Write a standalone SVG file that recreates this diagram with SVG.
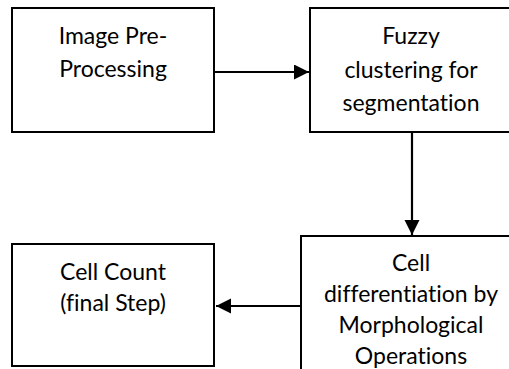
<svg xmlns="http://www.w3.org/2000/svg" width="509" height="369" viewBox="0 0 509 369">
  <style>
    .box { fill: #ffffff; stroke: #000000; stroke-width: 2; }
    .label { font-family: "Lato", "Liberation Sans", sans-serif; font-size: 23px; fill: #000000; text-anchor: middle; font-variant-ligatures: none; }
    .edge { stroke: #000000; stroke-width: 2.2; fill: none; marker-end: url(#arrow); }
  </style>
  <defs>
    <marker id="arrow" markerUnits="userSpaceOnUse" markerWidth="16" markerHeight="16" refX="15" refY="7.5" orient="auto">
      <path d="M0,0 L15,7.5 L0,15 Z" fill="#000000"/>
    </marker>
  </defs>
  <rect width="509" height="369" fill="#ffffff"/>

  <g id="connectors">
    <line class="edge" x1="214" y1="72" x2="309" y2="72"/>
    <line class="edge" x1="412" y1="132" x2="412" y2="235"/>
    <line class="edge" x1="301" y1="306" x2="216" y2="306"/>
  </g>

  <g id="preprocessing">
    <rect class="box" x="12" y="8" width="202" height="124"/>
    <text class="label" x="113" y="44">Image Pre-</text>
    <text class="label" x="113" y="77">Processing</text>
  </g>

  <g id="fuzzy-clustering">
    <rect class="box" x="310" y="8" width="204" height="124"/>
    <text class="label" x="411" y="44">Fuzzy</text>
    <text class="label" x="411" y="77.5">clustering for</text>
    <text class="label" x="411" y="111">segmentation</text>
  </g>

  <g id="cell-differentiation">
    <rect class="box" x="301" y="236" width="222" height="140"/>
    <text class="label" x="411" y="271">Cell</text>
    <text class="label" x="411" y="302">differentiation by</text>
    <text class="label" x="411" y="333">Morphological</text>
    <text class="label" x="411" y="364">Operations</text>
  </g>

  <g id="cell-count">
    <rect class="box" x="12" y="244" width="202" height="122"/>
    <text class="label" x="113" y="280">Cell Count</text>
    <text class="label" x="113" y="311">(final Step)</text>
  </g>
</svg>
